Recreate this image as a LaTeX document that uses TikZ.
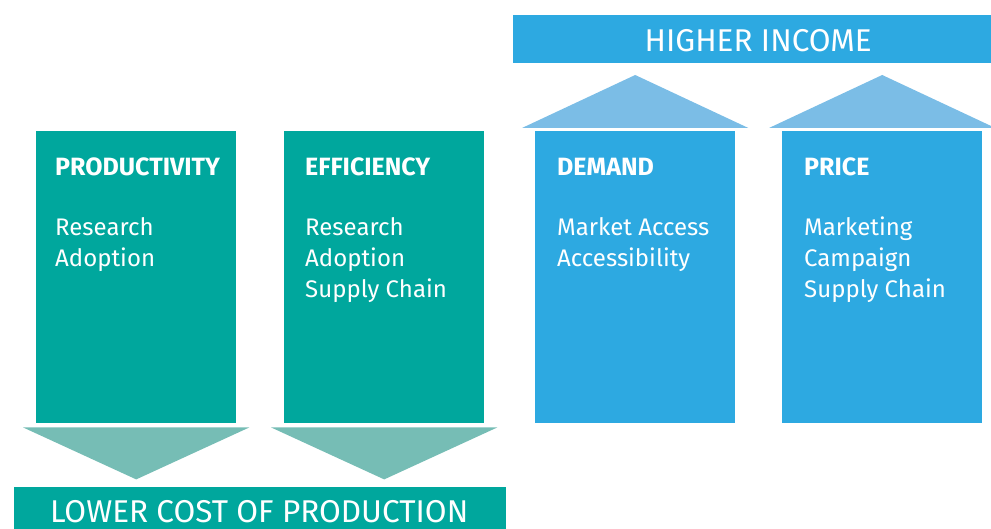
\documentclass[tikz,border=0pt]{standalone}
\usepackage{fontspec}
\setmainfont{Fira Sans}
\usetikzlibrary{calc}
\definecolor{tealbox}{RGB}{0,167,157}
\definecolor{tealarrow}{RGB}{118,189,181}
\definecolor{bluebox}{RGB}{45,169,225}
\definecolor{bluearrow}{RGB}{123,189,230}
\newcommand{\boxw}{200pt}
\newcommand{\boxh}{292pt}

\begin{document}
\begin{tikzpicture}[x=1pt,y=-1pt,
  pillar/.style={rectangle, inner sep=0pt, minimum width=\boxw, minimum height=\boxh, anchor=north west},
  bar/.style={rectangle, inner sep=0pt, anchor=north west},
  head/.style={anchor=base west, text=white, inner sep=0pt, font=\fontsize{25}{28}\selectfont\bfseries},
  items/.style={anchor=north west, text=white, inner sep=0pt, align=left, font=\fontsize{24}{31}\selectfont},
  bartext/.style={text=white, inner sep=0pt, anchor=base, font=\fontsize{31.5}{34}\selectfont}]
\useasboundingbox (0,0) rectangle (991,529);
% pillars
\node[pillar, fill=tealbox] (prod) at (36,131) {};
\node[pillar, fill=tealbox] (eff) at (284,131) {};
\node[pillar, fill=bluebox] (dem) at (535,131) {};
\node[pillar, fill=bluebox] (price) at (782,131) {};
% bars
\node[bar, fill=bluebox, minimum width=478pt, minimum height=48pt] (income) at (513,15) {};
\node[bar, fill=tealbox, minimum width=492pt, minimum height=44pt] (cost) at (14,487) {};
\node[bartext] at ($(income.center)+(6,12)$) {HIGHER INCOME};
\node[bartext] at ($(cost.center)+(-1,13)$) {LOWER COST OF PRODUCTION};
% arrows down
\foreach \p in {prod,eff}
  \fill[tealarrow] ($(\p.south west)+(-13,4)$) -- ($(\p.south east)+(13,4)$) -- ($(\p.south)+(0,56)$) -- cycle;
% arrows up
\foreach \p in {dem,price}
  \fill[bluearrow] ($(\p.north west)+(-13,-3)$) -- ($(\p.north east)+(13,-3)$) -- ($(\p.north)+(0,-56)$) -- cycle;
% headings
\node[head] (prodhead) at ($(prod.north west)+(19,45)$) {PRODUCTIVITY};
\node[head] (effhead) at ($(eff.north west)+(21,45)$) {EFFICIENCY};
\node[head] (demhead) at ($(dem.north west)+(22,45)$) {DEMAND};
\node[head] (pricehead) at ($(price.north west)+(22,45)$) {PRICE};
% items
\node[items] (prodlist) at ($(prod.north west)+(19,86)$) {Research\\Adoption};
\node[items] (efflist) at ($(eff.north west)+(21,86)$) {Research\\Adoption\\Supply Chain};
\node[items] (demlist) at ($(dem.north west)+(22,86)$) {Market Access\\Accessibility};
\node[items] (pricelist) at ($(price.north west)+(22,86)$) {Marketing\\Campaign\\Supply Chain};
\end{tikzpicture}
\end{document}
